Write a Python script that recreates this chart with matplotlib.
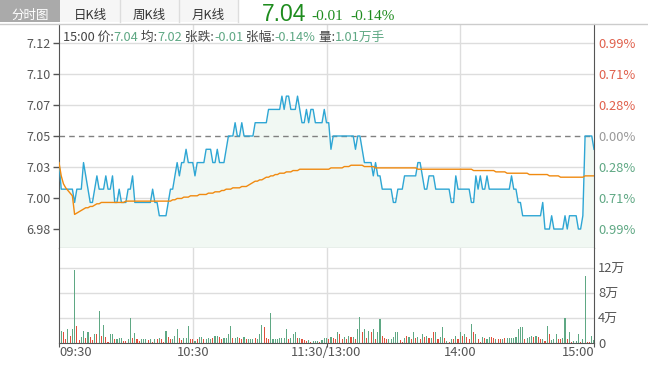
import matplotlib
matplotlib.use("Agg")
import matplotlib.pyplot as plt
from matplotlib.patches import Rectangle
from matplotlib.lines import Line2D
from matplotlib.transforms import IdentityTransform

plt.rcParams['font.family'] = ['Noto Sans CJK SC', 'DejaVu Sans']

# one point per minute, 09:30 .. 11:30/13:00 .. 15:00
price = [
    7.03, 7.01, 7.01, 7.01, 7.01, 7.01, 7.01, 7.00, 7.01, 7.01,
    7.01, 7.03, 7.02, 7.01, 7.00, 7.00, 7.01, 7.02, 7.01, 7.01,
    7.01, 7.02, 7.01, 7.01, 7.02, 7.00, 7.00, 7.01, 7.00, 7.00,
    7.00, 7.01, 7.01, 7.02, 7.00, 7.00, 7.00, 7.00, 7.00, 7.00,
    7.00, 7.00, 7.01, 7.00, 7.00, 6.99, 6.99, 6.99, 6.99, 7.00,
    7.01, 7.01, 7.02, 7.03, 7.02, 7.03, 7.03, 7.04, 7.03, 7.03,
    7.03, 7.02, 7.03, 7.03, 7.03, 7.03, 7.04, 7.04, 7.04, 7.03,
    7.03, 7.04, 7.03, 7.03, 7.03, 7.04, 7.05, 7.05, 7.05, 7.06,
    7.05, 7.05, 7.06, 7.05, 7.05, 7.05, 7.05, 7.05, 7.06, 7.06,
    7.06, 7.06, 7.06, 7.06, 7.07, 7.07, 7.07, 7.07, 7.07, 7.07,
    7.08, 7.07, 7.08, 7.08, 7.07, 7.07, 7.07, 7.08, 7.07, 7.06,
    7.06, 7.07, 7.06, 7.07, 7.07, 7.06, 7.06, 7.06, 7.06, 7.07,
    7.06, 7.06, 7.04, 7.05, 7.05, 7.05, 7.05, 7.05, 7.05, 7.05,
    7.05, 7.05, 7.05, 7.04, 7.05, 7.05, 7.04, 7.03, 7.03, 7.03,
    7.03, 7.02, 7.03, 7.02, 7.02, 7.01, 7.01, 7.01, 7.01, 7.01,
    7.00, 7.00, 7.01, 7.01, 7.01, 7.02, 7.02, 7.02, 7.02, 7.02,
    7.02, 7.03, 7.03, 7.02, 7.01, 7.01, 7.02, 7.02, 7.02, 7.01,
    7.01, 7.01, 7.01, 7.01, 7.01, 7.01, 7.00, 7.00, 7.02, 7.01,
    7.01, 7.01, 7.01, 7.01, 7.01, 7.00, 7.00, 7.02, 7.01, 7.02,
    7.01, 7.01, 7.02, 7.01, 7.01, 7.01, 7.01, 7.01, 7.01, 7.01,
    7.01, 7.01, 7.01, 7.02, 7.01, 7.01, 7.00, 7.00, 6.99, 6.99,
    6.99, 6.99, 6.99, 6.99, 6.99, 6.99, 6.99, 7.00, 6.98, 6.98,
    6.98, 6.99, 6.98, 6.98, 6.98, 6.98, 6.98, 6.99, 6.98, 6.99,
    6.99, 6.99, 6.99, 6.98, 6.98, 6.99, 7.05, 7.05, 7.05, 7.05,
    7.04,
]

avg_price = [
    7.030, 7.020, 7.014, 7.011, 7.009, 7.007, 7.005, 6.991, 6.992, 6.993,
    6.994, 6.995, 6.996, 6.996, 6.997, 6.997, 6.998, 6.999, 6.999, 7.000,
    7.000, 7.000, 7.000, 7.000, 7.000, 7.000, 7.000, 7.000, 7.000, 7.000,
    7.001, 7.001, 7.001, 7.001, 7.001, 7.001, 7.001, 7.001, 7.001, 7.001,
    7.001, 7.001, 7.001, 7.001, 7.001, 7.001, 7.001, 7.001, 7.001, 7.001,
    7.001, 7.002, 7.002, 7.003, 7.003, 7.003, 7.004, 7.004, 7.004, 7.005,
    7.005, 7.005, 7.005, 7.006, 7.006, 7.006, 7.006, 7.007, 7.007, 7.007,
    7.008, 7.008, 7.008, 7.009, 7.009, 7.010, 7.010, 7.010, 7.011, 7.011,
    7.011, 7.011, 7.012, 7.012, 7.012, 7.013, 7.014, 7.015, 7.016, 7.016,
    7.017, 7.017, 7.018, 7.019, 7.019, 7.020, 7.020, 7.021, 7.021, 7.022,
    7.022, 7.022, 7.023, 7.023, 7.023, 7.024, 7.024, 7.024, 7.025, 7.025,
    7.025, 7.025, 7.025, 7.025, 7.025, 7.025, 7.025, 7.025, 7.025, 7.025,
    7.025, 7.025, 7.026, 7.026, 7.026, 7.026, 7.026, 7.026, 7.027, 7.027,
    7.027, 7.028, 7.028, 7.028, 7.028, 7.028, 7.028, 7.027, 7.027, 7.027,
    7.027, 7.027, 7.026, 7.026, 7.026, 7.026, 7.026, 7.026, 7.026, 7.026,
    7.026, 7.026, 7.026, 7.026, 7.026, 7.026, 7.026, 7.026, 7.026, 7.026,
    7.026, 7.025, 7.025, 7.025, 7.025, 7.025, 7.025, 7.025, 7.025, 7.025,
    7.025, 7.025, 7.025, 7.025, 7.025, 7.025, 7.025, 7.025, 7.025, 7.025,
    7.025, 7.025, 7.025, 7.025, 7.025, 7.025, 7.024, 7.024, 7.024, 7.024,
    7.024, 7.024, 7.024, 7.024, 7.024, 7.024, 7.023, 7.023, 7.023, 7.023,
    7.023, 7.022, 7.022, 7.022, 7.022, 7.022, 7.022, 7.022, 7.022, 7.022,
    7.022, 7.021, 7.021, 7.021, 7.021, 7.021, 7.021, 7.021, 7.021, 7.021,
    7.020, 7.020, 7.020, 7.020, 7.020, 7.019, 7.019, 7.019, 7.019, 7.019,
    7.019, 7.019, 7.019, 7.019, 7.019, 7.019, 7.020, 7.020, 7.020, 7.020,
    7.020,
]

# volume in 万 (10k shares), g = down bar, r = up bar
volume = [
    1.0, 2.0, 1.8, 0.6, 2.2, 1.2, 2.2, 11.7, 2.8, 0.5,
    1.0, 2.0, 0.8, 1.7, 1.0, 0.5, 1.5, 1.4, 5.2, 1.2,
    2.9, 1.0, 0.2, 1.4, 1.4, 0.6, 0.6, 0.8, 0.8, 0.4,
    0.3, 0.6, 4.0, 0.8, 1.6, 0.7, 0.4, 0.7, 0.7, 0.7,
    0.5, 0.7, 0.2, 0.7, 0.6, 0.8, 0.7, 0.1, 1.9, 1.0,
    0.7, 0.7, 1.2, 2.2, 0.8, 0.5, 0.8, 0.8, 2.8, 0.7,
    0.7, 0.4, 0.6, 1.0, 1.0, 0.7, 0.7, 0.8, 0.7, 0.8,
    1.2, 1.2, 1.0, 0.7, 0.8, 0.8, 1.4, 2.8, 0.8, 0.8,
    1.0, 0.8, 0.7, 1.0, 0.6, 0.7, 0.7, 0.7, 0.8, 0.6,
    1.4, 2.9, 2.6, 0.8, 0.7, 4.8, 0.7, 0.7, 0.7, 0.8,
    0.8, 0.8, 2.3, 0.7, 0.8, 1.4, 1.8, 0.8, 0.8, 0.7,
    0.5, 0.3, 0.5, 0.2, 0.4, 0.4, 0.4,
    0.2, 0.5, 0.8, 0.8, 0.7, 1.0, 0.8, 0.7, 1.7, 1.5,
    0.7, 1.0, 0.7, 1.2, 1.0, 1.0, 0.7, 2.2, 4.2, 1.7,
    2.2, 0.8, 2.0, 1.8, 2.3, 0.6, 1.7, 3.9, 1.2, 0.8,
    0.7, 0.7, 0.7, 1.0, 1.7, 1.7, 0.5, 0.2, 0.8, 1.2,
    1.0, 0.6, 1.8, 0.8, 1.0, 0.7, 1.4, 1.0, 1.2, 0.8,
    0.8, 1.8, 1.7, 0.7, 1.0, 2.6, 0.8, 0.4, 0.2, 0.7,
    0.6, 1.2, 0.7, 1.7, 1.2, 1.5, 1.0, 0.6, 3.1, 1.7,
    1.5, 0.6, 0.2, 1.0, 0.8, 0.7, 1.0, 1.0, 0.8, 0.7,
    0.6, 0.7, 0.7, 0.8, 0.8, 0.8, 0.8, 0.8, 1.0, 2.2,
    2.6, 2.6, 0.6, 0.8, 1.0, 1.2, 1.0, 1.2, 1.0, 0.6,
    0.7, 0.4, 2.8, 1.5, 0.5, 0.7, 1.4, 0.7, 0.7, 0.8,
    4.0, 0.6, 1.7, 0.2, 0.4, 0.4, 1.4, 0.2, 0.6, 10.8,
    0.2, 0.2, 1.2, 0.5,
]
vol_dir = (
    "ggrrgrggrr" "ggrgrrgrgr" "grrggrgggr" "rggrgrrggg" "rgrgrgrrgr"
    "rgggrrgggr" "rgrggrgggr" "ggrrggggrg" "grrgrgggrg" "ggrrrggggg"
    "gggrgggrgr" "rrgrggg"
    "rgggrgrrgr" "rgrgrgrggr" "grgrgrggrr" "rgggggrrgr" "grgrgrgrgr"
    "grgrggrgrg" "rgrgrgrrgr" "grrgrggrrg" "rrgrgggggg" "ggrgggrgrr"
    "grgrgggrrg" "grgrgggrgg" "rrgg"
)

prev_close = 7.05
left_labels = ["7.12", "7.10", "7.07", "7.05", "7.03", "7.00", "6.98"]
right_labels = ["0.99%", "0.71%", "0.28%", "0.00%", "0.28%", "0.71%", "0.99%"]
vol_ticks = [0, 4, 8, 12]
vol_labels = ["0", "4万", "8万", "12万"]
time_labels = ["09:30", "10:30", "11:30/13:00", "14:00", "15:00"]
time_pos = [0, 60, 120, 180, 240]

assert len(price) == 241 and len(avg_price) == 241
assert len(volume) == 241 and len(vol_dir) == 241

W, H = 648, 365
GRID = "#dddddd"
SPINE = "#555555"
UP = "#e0604c"
DOWN = "#5fa884"
PX = IdentityTransform()


def box(x0, top, x1, bot):
    return [x0 / W, 1 - bot / H, (x1 - x0) / W, (bot - top) / H]


fig = plt.figure(figsize=(W / 100, H / 100), dpi=100)

# tab bar
fig.add_artist(Rectangle((0, H - 22), 60, 22, transform=PX, color="#aaaaaa", lw=0))
fig.add_artist(Rectangle((60, H - 22), 178, 22, transform=PX, color="#f6f6f6", lw=0))
for xs in (119.5, 178.5, 237.5):
    fig.add_artist(Line2D([xs, xs], [H - 22, H], transform=PX, color="#dddddd", lw=1))
fig.add_artist(Line2D([0, W], [H - 23.5, H - 23.5], transform=PX, color="#cccccc", lw=1))
for x, s, c in [(30, "分时图", "white"), (90, "日K线", "#333333"),
                (149, "周K线", "#333333"), (208, "月K线", "#333333")]:
    fig.text(x, H - 18.5, s, transform=PX, ha="center", va="baseline", fontsize=9, color=c)

fig.text(262, H - 21, "7.04", transform=PX, fontsize=16.5, color="#1e8c1e",
         family="Liberation Sans", va="baseline")
fig.text(311, H - 19.5, "-0.01", transform=PX, fontsize=11, color="#1e8c1e",
         family="Liberation Serif", va="baseline")
fig.text(350, H - 19.5, "-0.14%", transform=PX, fontsize=11, color="#1e8c1e",
         family="Liberation Serif", va="baseline")

minutes = list(range(len(price)))
step = 0.07 / 3
yticks = [prev_close + k * step for k in (3, 2, 1, 0, -1, -2, -3)]
ylo, yhi = prev_close - 112 / 1329, prev_close + 112 / 1329

# price panel
ax = fig.add_axes(box(59, 24, 594, 248))
ax.set_xlim(0, 240)
ax.set_ylim(ylo, yhi)
for y in yticks:
    if y != prev_close:
        ax.axhline(y, color=GRID, lw=1, zorder=0)
for x in (60, 120, 180):
    ax.axvline(x, color=GRID, lw=1, zorder=0)
ax.fill_between(minutes, price, ylo, color="#f1f8f3", lw=0, zorder=1)
ax.axhline(prev_close, color="#808080", lw=1, ls=(0, (4, 3)), zorder=2)
ax.plot(minutes, price, color="#2ea6d4", lw=1, zorder=3)
ax.plot(minutes, avg_price, color="#f08a10", lw=1, zorder=4)
ax.set_yticks(yticks)
ax.set_yticklabels(left_labels)
ax.set_xticks([])
ax.tick_params(axis="y", length=4, width=1, color=SPINE, pad=2, labelsize=9,
               labelcolor="#555555")
for side in ("left", "right", "bottom"):
    ax.spines[side].set_color(SPINE)
ax.spines["top"].set_visible(False)

ax2 = ax.twinx()
ax2.set_ylim(ylo, yhi)
ax2.set_yticks(yticks)
ax2.set_yticklabels(right_labels)
ax2.tick_params(axis="y", length=0, pad=3, labelsize=9.3)
for i, lab in enumerate(ax2.get_yticklabels()):
    lab.set_color(UP if i < 3 else ("#999999" if i == 3 else DOWN))
for s in ax2.spines.values():
    s.set_visible(False)

# info line
parts = [("15:00 价:", "#444444"), ("7.04", DOWN), (" 均:", "#444444"), ("7.02", DOWN),
         (" 张跌:", "#444444"), ("-0.01", DOWN), (" 张幅:", "#444444"), ("-0.14%", DOWN),
         (" 量:", "#444444"), ("1.01万手", DOWN)]
renderer = fig.canvas.get_renderer()
x = 63
for s, c in parts:
    t = fig.text(x, H - 41, s, transform=PX, fontsize=9.2, color=c, va="baseline")
    x = t.get_window_extent(renderer).x1

# volume panel
vax = fig.add_axes(box(59, 248, 594, 343))
vax.set_xlim(0, 240)
vax.set_ylim(0, 15.27)
for y in vol_ticks[1:]:
    vax.axhline(y, color=GRID, lw=1, zorder=0)
for x in (60, 120, 180):
    vax.axvline(x, color=GRID, lw=1, zorder=0)
vax.bar(minutes, volume, width=0.5,
        color=[DOWN if d == "g" else "#e0503c" for d in vol_dir], lw=0, zorder=2)
vax.set_yticks([])
vax.set_xticks([0, 120, 240])
vax.set_xticklabels([])
vax.tick_params(axis="x", length=3, color=SPINE)
for side in ("left", "right", "bottom"):
    vax.spines[side].set_color(SPINE)
vax.spines["top"].set_visible(False)

vax2 = vax.twinx()
vax2.set_ylim(0, 15.27)
vax2.set_yticks(vol_ticks)
vax2.set_yticklabels(vol_labels)
vax2.tick_params(axis="y", length=0, pad=3, labelsize=9.3, labelcolor="#555555")
for s in vax2.spines.values():
    s.set_visible(False)

# time labels under the volume panel
for i, (lab, m) in enumerate(zip(time_labels, time_pos)):
    xp = 59 + m * 535 / 240
    ha = "left" if i == 0 else ("right" if i == len(time_labels) - 1 else "center")
    fig.text(xp, H - 356.5, lab, transform=PX, ha=ha, va="baseline", fontsize=9.3,
             color="#555555")

fig.savefig("out.png", dpi=100)
